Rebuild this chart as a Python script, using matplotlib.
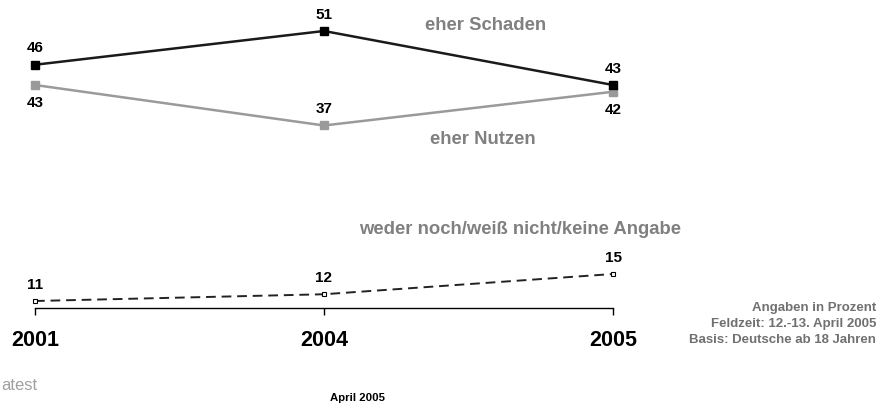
import matplotlib.pyplot as plt

plt.rcParams['font.family'] = ['Liberation Sans', 'DejaVu Sans']

years = ['2001', '2004', '2005']
schaden = [46, 51, 43]
nutzen = [43, 37, 42]
weder = [11, 12, 15]

# label side per point: +1 above, -1 below
schaden_side = [1, 1, 1]
nutzen_side = [-1, 1, -1]
weder_side = [1, 1, 1]

fig = plt.figure(figsize=(8.81, 4.10), dpi=100)
ax = fig.add_axes([0, 0.2463, 1, 0.7537])
x = range(len(years))

ax.plot(x, schaden, color='#1a1a1a', lw=1.8, marker='s', ms=6,
        mfc='black', mec='black', zorder=3)
ax.plot(x, nutzen, color='#9a9a9a', lw=1.8, marker='s', ms=6,
        mfc='#9a9a9a', mec='#9a9a9a', zorder=2)
ax.plot(x, weder, color='#222222', lw=1.4, ls=(0, (5, 3)), marker='s', ms=3.5,
        mfc='white', mec='black', mew=0.8, zorder=3)

for vals, sides in [(schaden, schaden_side), (nutzen, nutzen_side), (weder, weder_side)]:
    for i, (v, s) in enumerate(zip(vals, sides)):
        ax.annotate(str(v), (i, v), xytext=(0, 12.5 * s), textcoords='offset points',
                    ha='center', va='center', fontsize=11, fontweight='bold', color='black')

ax.set_xlim(-35 / 289, (881 - 35) / 289)
ax.set_ylim(9.96, 55.74)

for sp in ['top', 'right', 'left']:
    ax.spines[sp].set_visible(False)
ax.spines['bottom'].set_bounds(0, 2)
ax.spines['bottom'].set_linewidth(1.0)
ax.set_yticks([])
ax.set_xticks(list(x))
ax.set_xticklabels(years, fontsize=15.5, fontweight='bold')
ax.tick_params(axis='x', direction='out', length=5, width=1, pad=10)
ax.patch.set_visible(False)

grey = '#808080'
fig.text(486 / 881, 1 - 26 / 410, 'eher Schaden', ha='center', va='center',
         fontsize=13.3, fontweight='bold', color=grey)
fig.text(483 / 881, 1 - 140 / 410, 'eher Nutzen', ha='center', va='center',
         fontsize=13.3, fontweight='bold', color=grey)
fig.text(520 / 881, 1 - 230 / 410, 'weder noch/weiß nicht/keine Angabe', ha='center',
         va='center', fontsize=13.3, fontweight='bold', color=grey)

fig.text(876 / 881, 1 - 324 / 410,
         'Angaben in Prozent\nFeldzeit: 12.-13. April 2005\nBasis: Deutsche ab 18 Jahren',
         ha='right', va='center', fontsize=9.5, fontweight='bold', color='#707070',
         linespacing=1.45, multialignment='right')
fig.text(358 / 881, 1 - 398 / 410, 'April 2005', ha='center', va='center',
         fontsize=8.2, fontweight='bold', color='black')
fig.text(1 / 881, 1 - 386 / 410, 'atest', ha='left', va='center',
         fontsize=12, color='#a0a0a0')

fig.savefig('out.png', dpi=100)
